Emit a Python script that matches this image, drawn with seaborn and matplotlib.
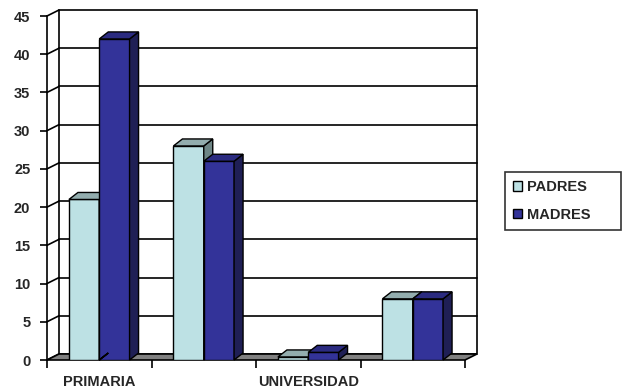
import matplotlib
matplotlib.use("Agg")
import matplotlib.pyplot as plt
from matplotlib.patches import Polygon, Rectangle
import seaborn as sns
import pandas as pd
import numpy as np

# ---- data ----
categories = ["PRIMARIA", "SECUNDARIA", "UNIVERSIDAD", "OTROS"]
shown_labels = ["PRIMARIA", "", "UNIVERSIDAD", ""]
series = ["PADRES", "MADRES"]
padres = [21, 28, 0.4, 8]
madres = [42, 26, 1, 8]
yticks = [0, 5, 10, 15, 20, 25, 30, 35, 40, 45]

front_colors = {"PADRES": "#BDE1E4", "MADRES": "#333399"}
top_colors = {"PADRES": "#93ADAE", "MADRES": "#2B2B80"}
side_colors = {"PADRES": "#6E8686", "MADRES": "#1F1F55"}

df = pd.DataFrame({
    "cat": categories * 2,
    "serie": [series[0]] * 4 + [series[1]] * 4,
    "val": padres + madres,
})

sns.set_style("white")
plt.rcParams["font.family"] = ["Liberation Sans", "DejaVu Sans"]
plt.rcParams["font.weight"] = "bold"

W, H = 622, 389
fig = plt.figure(figsize=(W / 100, H / 100), dpi=100)
x_l, x_r, y_t, y_b = 47, 465, 16, 360
ax = fig.add_axes([x_l / W, 1 - y_b / H, (x_r - x_l) / W, (y_b - y_t) / H])
ax.set_facecolor("none")

sns.barplot(data=df, x="cat", y="val", hue="serie", order=categories,
            hue_order=series, palette=front_colors, width=0.58, gap=0,
            edgecolor="black", linewidth=1.0, saturation=1, ax=ax,
            errorbar=None, zorder=3)

ax.set_xlim(-0.5, 3.5)
ax.set_ylim(0, 45)

px_x = (x_r - x_l) / 4.0          # pixels per category unit
px_y = (y_b - y_t) / 45.0         # pixels per value unit
wdx, wdy = 12 / px_x, 6 / px_y    # wall depth offset
bdx, bdy = 9 / px_x, 7 / px_y     # bar depth offset

# back wall
x0, x1 = -0.5, 3.5
ax.add_patch(Rectangle((x0 + wdx, wdy), x1 - x0, 45, facecolor="white",
                       edgecolor="black", lw=1.2, zorder=0.5, clip_on=False))
for yv in yticks[1:-1]:
    ax.plot([x0 + wdx, x1 + wdx], [yv + wdy, yv + wdy], color="black",
            lw=1.2, zorder=1, clip_on=False)
# left side wall diagonals
for yv in yticks:
    ax.plot([x0, x0 + wdx], [yv, yv + wdy], color="black", lw=1.2,
            zorder=1, clip_on=False)
# floor
ax.add_patch(Polygon([(x0, 0), (x1, 0), (x1 + wdx, wdy), (x0 + wdx, wdy)],
                     closed=True, facecolor="#808080", edgecolor="black",
                     lw=1.2, zorder=1.5, clip_on=False))

# 3D faces of bars
n = len(categories)
bars = [pp for pp in ax.patches if isinstance(pp, Rectangle) and pp.get_zorder() == 3]
for i, p in enumerate(bars):
    s = series[0] if i < n else series[1]
    z = 3 if s == series[0] else 4
    p.set_zorder(z)
    bx, bw, bh = p.get_x(), p.get_width(), p.get_height()
    top = Polygon([(bx, bh), (bx + bw, bh), (bx + bw + bdx, bh + bdy),
                   (bx + bdx, bh + bdy)], closed=True,
                  facecolor=top_colors[s], edgecolor="black", lw=1.0,
                  zorder=z, clip_on=False)
    side = Polygon([(bx + bw, 0), (bx + bw + bdx, bdy), (bx + bw + bdx, bh + bdy),
                    (bx + bw, bh)], closed=True,
                   facecolor=side_colors[s], edgecolor="black", lw=1.0,
                   zorder=z, clip_on=False)
    ax.add_patch(side)
    ax.add_patch(top)

# axes styling
for sp in ["top", "right", "bottom"]:
    ax.spines[sp].set_visible(False)
ax.spines["left"].set_color("black")
ax.spines["left"].set_linewidth(1.2)
ax.spines["left"].set_zorder(2)
ax.set_yticks(yticks)
ax.set_yticklabels([str(v) for v in yticks], fontsize=10.5, fontweight="bold")
ax.tick_params(axis="y", direction="out", length=5, width=1.2, color="black",
               left=True, pad=7)
ax.set_xticks(range(n))
ax.set_xticklabels(shown_labels, fontsize=10.5, fontweight="bold")
ax.set_xticks(np.arange(-0.5, n, 1.0), minor=True)
ax.tick_params(axis="x", which="major", length=0, pad=11)
ax.tick_params(axis="x", which="minor", direction="out", length=6, width=1.2,
               color="black", bottom=True)
ax.set_xlabel("")
ax.set_ylabel("")
ax.grid(False)

# legend
handles, labels = ax.get_legend_handles_labels()
if ax.get_legend() is not None:
    ax.get_legend().remove()
leg = fig.legend(handles, labels, loc="upper left",
                 bbox_to_anchor=(505 / W, 1 - 229 / H, 116 / W, 57 / H),
                 mode="expand",
                 bbox_transform=fig.transFigure, frameon=True,
                 fancybox=False, shadow=False, handlelength=0.6,
                 handleheight=0.6, handletextpad=0.35, labelspacing=0.95,
                 borderpad=0.55, borderaxespad=0,
                 prop={"size": 10.5, "weight": "bold"})
leg.get_frame().set_edgecolor("black")
leg.get_frame().set_linewidth(1.2)

fig.savefig("out.png", dpi=100, facecolor="white")
